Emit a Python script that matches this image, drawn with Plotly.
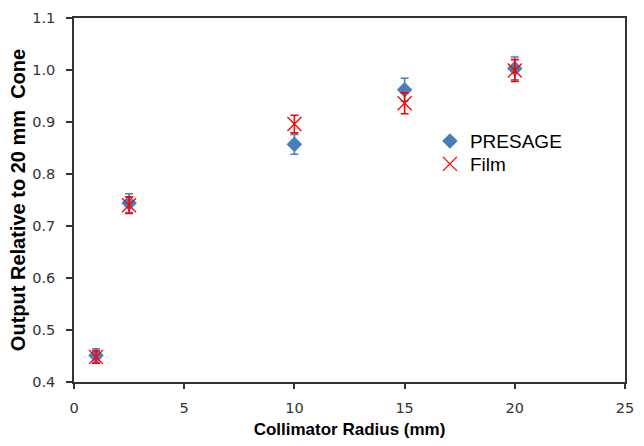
import plotly.graph_objects as go

radius = [1, 2.5, 10, 15, 20]
presage = [0.451, 0.744, 0.857, 0.962, 1.003]
presage_err = [0.013, 0.018, 0.019, 0.022, 0.022]
film = [0.448, 0.740, 0.896, 0.936, 0.999]
film_err = [0.012, 0.016, 0.017, 0.020, 0.021]

blue = "#4A7EBB"
red = "#FF0000"

fig = go.Figure()
fig.add_trace(go.Scatter(
    x=radius, y=presage, mode="markers", name="PRESAGE", legend="legend",
    marker=dict(symbol="diamond", size=12, color=blue),
    error_y=dict(type="data", array=presage_err, color=blue, thickness=1.6, width=4),
))
fig.add_trace(go.Scatter(
    x=radius, y=film, mode="markers", name="Film", legend="legend2",
    marker=dict(symbol="x-thin", size=14, color=red, line=dict(color=red, width=1.3)),
    error_y=dict(type="data", array=film_err, color=red, thickness=1.6, width=4),
))

axis_common = dict(
    showline=True, linecolor="#333333", linewidth=1.5, mirror=True,
    ticks="outside", tickcolor="#333333", tickwidth=1.5,
    showgrid=False, zeroline=False,
    tickfont=dict(family="DejaVu Sans", size=14.5, color="#333333"),
)

legend_common = dict(xanchor="left", yanchor="top", x=0.646,
                     font=dict(family="Liberation Sans", size=19, color="black"),
                     bgcolor="rgba(0,0,0,0)", itemwidth=30, borderwidth=0)

fig.update_layout(
    width=644, height=446,
    margin=dict(l=74, r=10, t=16, b=63),
    plot_bgcolor="white", paper_bgcolor="white",
    xaxis=dict(range=[0, 25], dtick=5, ticklen=5, ticklabelstandoff=7,
               title=dict(text="Collimator Radius (mm)",
                          font=dict(family="Liberation Sans", size=17, color="black", weight="bold"),
                          standoff=8),
               **axis_common),
    yaxis=dict(range=[0.4, 1.1], dtick=0.1, tickformat=".1f", ticklen=6, ticklabelstandoff=8,
               title=dict(text="Output Relative to 20 mm  Cone",
                          font=dict(family="Liberation Sans", size=20, color="black", weight="bold"),
                          standoff=1),
               **axis_common),
    legend=dict(y=0.714, **legend_common),
    legend2=dict(y=0.651, **legend_common),
    showlegend=True,
)

fig.write_html("out.html")
